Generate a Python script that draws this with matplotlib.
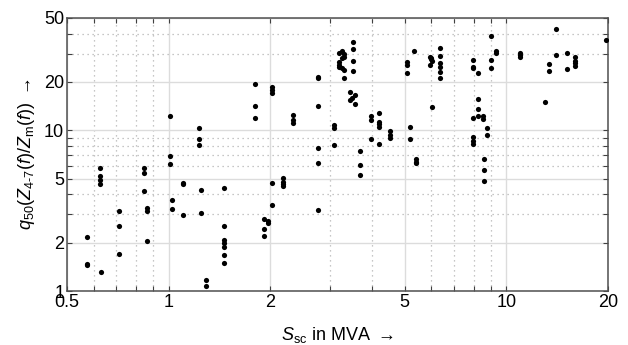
import matplotlib
matplotlib.use("Agg")
import matplotlib.pyplot as plt
from matplotlib.ticker import FixedLocator, NullFormatter

plt.rcParams['font.family'] = ['Liberation Sans', 'DejaVu Sans']
plt.rcParams['mathtext.fontset'] = 'custom'
plt.rcParams['mathtext.rm'] = 'Liberation Sans'
plt.rcParams['mathtext.it'] = 'Liberation Sans:italic'

s_sc = [0.572, 0.572, 0.572, 0.629,
        0.626, 0.626, 0.626, 0.626,
        0.711, 0.711, 0.711,
        0.847, 0.847, 0.847, 0.865, 0.865, 0.865,
        1.009, 1.009, 1.009, 1.021, 1.021,
        1.103, 1.103, 1.103, 1.23, 1.23, 1.23, 1.245, 1.245,
        1.288, 1.288,
        1.462, 1.462, 1.462, 1.462, 1.462, 1.462, 1.462,
        1.80, 1.80, 1.80,
        2.02, 2.02, 2.02, 2.02, 2.02,
        1.915, 1.915, 1.915, 1.97, 1.97,
        2.18, 2.18, 2.18, 2.18,
        2.34, 2.34, 2.34,
        2.77, 2.77, 2.77, 2.77, 2.77, 2.77,
        3.09, 3.09, 3.09,
        3.19, 3.19, 3.19, 3.19, 3.27, 3.27, 3.27, 3.30, 3.30, 3.31, 3.31,
        3.51, 3.51, 3.51, 3.51,
        3.44, 3.44, 3.50, 3.56, 3.56,
        3.69, 3.69, 3.69,
        3.97, 3.97, 3.97,
        4.2, 4.2, 4.2, 4.2, 4.2,
        4.52, 4.52, 4.52,
        5.07, 5.07, 5.07, 5.33, 5.19, 5.19,
        5.4, 5.4, 5.4,
        5.94, 5.94, 6.0, 6.0, 6.03, 6.03,
        6.36, 6.36, 6.36, 6.36, 6.36, 6.36,
        7.95, 7.95, 7.95, 7.95, 7.95, 7.95, 7.95,
        8.26, 8.26, 8.26, 8.26,
        8.51, 8.51, 8.75, 8.75,
        8.61, 8.61, 8.61,
        8.99, 8.99, 8.99, 9.32, 9.32,
        10.97, 10.97, 10.97,
        13.0, 13.4, 13.4, 14.0, 14.0,
        15.15, 15.15, 15.96, 15.96, 15.96, 15.96,
        19.7]

q50 = [2.16, 1.47, 1.45, 1.32,
       5.85, 5.22, 4.91, 4.63,
       3.15, 2.55, 1.71,
       5.85, 5.4, 4.19, 3.27, 3.16, 2.04,
       12.2, 6.95, 6.17, 3.68, 3.25,
       4.72, 4.6, 2.97, 10.4, 8.87, 8.1, 4.25, 3.06,
       1.17, 1.08,
       4.36, 2.55, 2.08, 2.0, 1.89, 1.68, 1.49,
       19.4, 14.1, 11.9,
       18.7, 17.8, 17.0, 4.68, 3.43,
       2.79, 2.42, 2.21, 2.74, 2.64,
       5.03, 4.79, 4.61, 4.5,
       12.45, 11.6, 11.05,
       21.6, 21.3, 14.2, 7.73, 6.26, 3.2,
       10.8, 10.3, 8.07,
       30.1, 26.7, 24.9, 25.5, 31.2, 28.1, 24.5, 29.7, 28.7, 23.7, 21.1,
       35.6, 31.9, 27.0, 23.5,
       17.2, 15.4, 15.96, 16.6, 14.5,
       7.43, 6.08, 5.29,
       12.2, 11.6, 8.79,
       12.9, 11.3, 10.9, 10.5, 8.22,
       9.94, 9.35, 9.0,
       26.7, 25.5, 22.8, 31.2, 10.5, 8.79,
       6.6, 6.38, 6.23,
       28.7, 25.5, 27.7, 28.0, 27.0, 13.9,
       32.7, 29.1, 26.3, 24.9, 23.2, 21.2,
       27.4, 24.9, 24.3, 12.0, 9.04, 8.61, 8.22,
       22.8, 15.6, 13.5, 12.3,
       12.2, 11.75, 10.3, 9.35,
       6.66, 5.64, 4.84,
       38.6, 27.4, 24.3, 31.2, 30.4,
       30.4, 29.4, 28.5,
       14.9, 25.9, 23.5, 42.7, 29.4,
       30.1, 24.1, 28.5, 27.1, 26.1, 25.1,
       36.5]

x_major = [0.5, 1, 2, 5, 10, 20]
x_minor = [0.6, 0.7, 0.8, 0.9, 3, 4, 6, 7, 8, 9]
y_major = [1, 2, 5, 10, 20, 50]
y_minor = [3, 4, 6, 7, 8, 9, 30, 40]
x_labels = ['0.5', '1', '2', '5', '10', '20']
y_labels = ['1', '2', '5', '10', '20', '50']

fig = plt.figure(figsize=(6.28, 3.45), dpi=100)
ax = fig.add_axes([0.1067, 0.1565, 0.8615, 0.7915])

ax.scatter(s_sc, q50, s=14, c='black', zorder=3, linewidths=0)

ax.set_xscale('log')
ax.set_yscale('log')
ax.set_xlim(0.5, 20)
ax.set_ylim(1, 50)

ax.xaxis.set_major_locator(FixedLocator(x_major))
ax.xaxis.set_minor_locator(FixedLocator(x_minor))
ax.yaxis.set_major_locator(FixedLocator(y_major))
ax.yaxis.set_minor_locator(FixedLocator(y_minor))
ax.set_xticklabels(x_labels)
ax.set_yticklabels(y_labels)
ax.xaxis.set_minor_formatter(NullFormatter())
ax.yaxis.set_minor_formatter(NullFormatter())

ax.grid(True, which='major', color='#dcdcdc', linestyle='-', linewidth=1.0, zorder=0)
ax.grid(True, which='minor', color='#b4b4b4', linestyle=(0, (1, 3)), linewidth=0.9, zorder=0)

ax.tick_params(which='both', direction='in', top=True, right=True,
               length=3.5, width=0.8, color='#404040', labelsize=13, pad=2)
for sp in ax.spines.values():
    sp.set_color('#505050')
    sp.set_linewidth(1.1)

ax.set_xlabel(r'$S_{\rm sc}$ in MVA $\rightarrow$', fontsize=13, labelpad=10)
ax.set_ylabel(r'$q_{50}(Z_{\text{4-7}}(f)/Z_{\rm m}(f))$ $\rightarrow$', fontsize=13, labelpad=5)

fig.savefig('out.png', dpi=100)
